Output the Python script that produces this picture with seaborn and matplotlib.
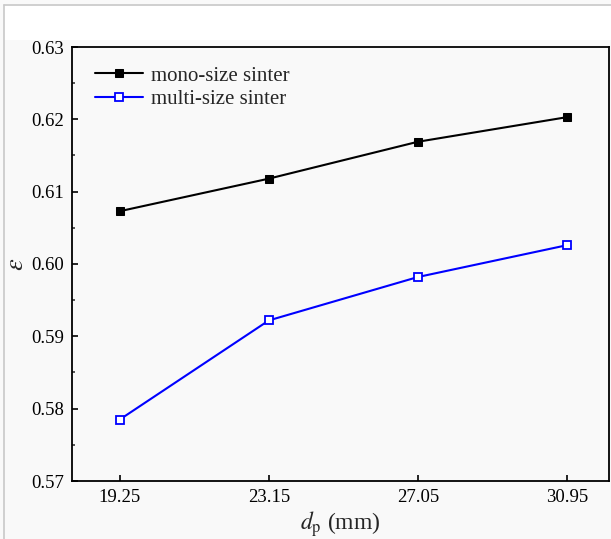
import numpy as np
import pandas as pd
import seaborn as sns
import matplotlib
matplotlib.use("Agg")
import matplotlib.pyplot as plt
from matplotlib.ticker import MultipleLocator
from matplotlib.lines import Line2D
from matplotlib.patches import Rectangle

dp = [19.25, 23.15, 27.05, 30.95]
mono = [0.6073, 0.6118, 0.6169, 0.6203]
multi = [0.5785, 0.5922, 0.5982, 0.6026]
series_names = ["mono-size sinter", "multi-size sinter"]
xticks = [19.25, 23.15, 27.05, 30.95]
yticks = [0.57, 0.58, 0.59, 0.60, 0.61, 0.62, 0.63]

sns.set_style("ticks")
plt.rcParams["font.family"] = ["Liberation Serif", "DejaVu Serif"]
plt.rcParams["mathtext.fontset"] = "stix"

fig = plt.figure(figsize=(6.11, 5.39), dpi=100)
fig.patch.set_facecolor("#f9f9f9")
fig.add_artist(Rectangle((4/611, (539-40)/539), 607/611, 34/539, transform=fig.transFigure,
                         facecolor="white", edgecolor="none", zorder=0))
fig.add_artist(Line2D([4/611, 4/611], [0, 1 - 5/539], transform=fig.transFigure, color="#c8c8c8", lw=1.2))
fig.add_artist(Line2D([4/611, 1], [1 - 5/539, 1 - 5/539], transform=fig.transFigure, color="#c8c8c8", lw=1.2))

ax = fig.add_axes([72/611, (539-481)/539, (609-72)/611, (481-47)/539])
ax.set_facecolor("#f9f9f9")

df_mono = pd.DataFrame({"dp": dp, "eps": mono})
df_multi = pd.DataFrame({"dp": dp, "eps": multi})

sns.lineplot(data=df_mono, x="dp", y="eps", ax=ax, color="black", lw=1.5,
             marker="s", markersize=5.6, markerfacecolor="black", markeredgecolor="black",
             label=series_names[0])
sns.lineplot(data=df_multi, x="dp", y="eps", ax=ax, color="#0000ff", lw=1.5,
             marker="s", markersize=5.6, markerfacecolor="white", markeredgecolor="#0000ff",
             markeredgewidth=1.3, label=series_names[1])

ax.set_xlim(18.0, 32.05)
ax.set_ylim(0.57, 0.63)
ax.set_xticks(xticks)
ax.set_xticklabels([f"{v:.2f}" for v in xticks])
ax.set_yticks(yticks)
ax.set_yticklabels([f"{v:.2f}" for v in yticks])
ax.yaxis.set_minor_locator(MultipleLocator(0.005))

for s in ax.spines.values():
    s.set_linewidth(1.3)
    s.set_color("black")
ax.tick_params(axis="both", which="major", direction="in", length=4, width=1.2,
               labelsize=13.5, pad=6, top=False, right=False, colors="black")
ax.tick_params(axis="y", which="minor", direction="in", length=2.5, width=1.1, right=False)

ax.set_xlabel(r"$d_\mathrm{p}$ (mm)", fontsize=17, labelpad=2)
ax.set_ylabel(r"$\varepsilon$", fontsize=19)
ax.yaxis.set_label_coords(-0.082, 0.5)

leg = ax.legend(loc="upper left", bbox_to_anchor=(0.02, 0.985), frameon=False,
                fontsize=15, handlelength=2.3, handletextpad=0.4, labelspacing=0.2,
                borderaxespad=0.2)

fig.savefig("out.png", dpi=100, facecolor=fig.get_facecolor())
